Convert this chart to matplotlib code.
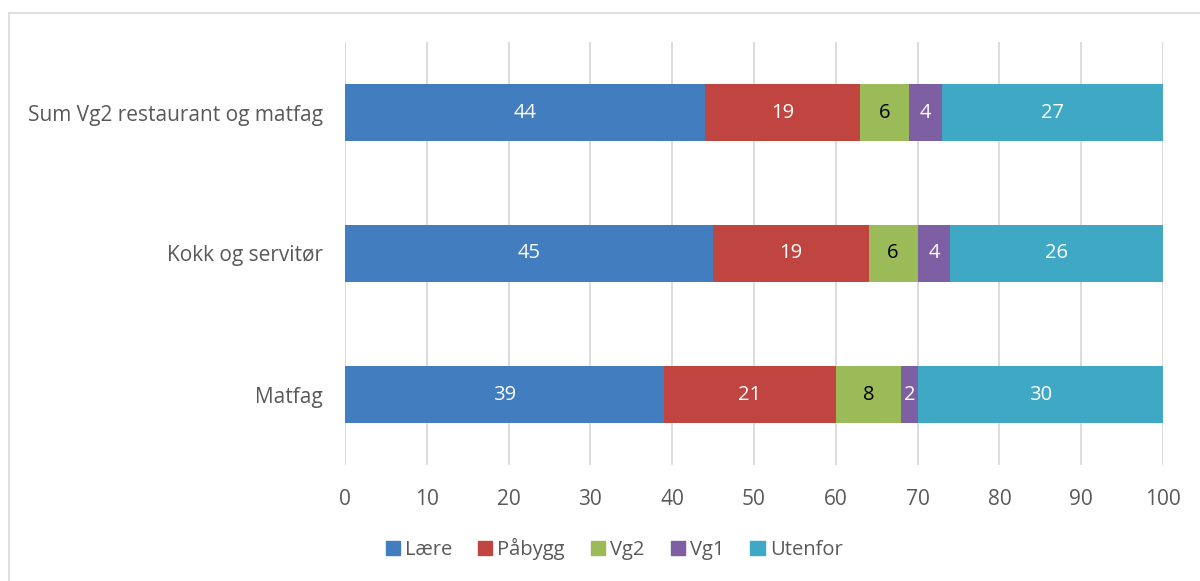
import matplotlib
matplotlib.use("Agg")
import matplotlib.pyplot as plt
import numpy as np
from matplotlib.lines import Line2D

categories = ["Matfag", "Kokk og servitør", "Sum Vg2 restaurant og matfag"]
series_names = ["Lære", "Påbygg", "Vg2", "Vg1", "Utenfor"]
laere = [39, 45, 44]
pabygg = [21, 19, 19]
vg2 = [8, 6, 6]
vg1 = [2, 4, 4]
utenfor = [30, 26, 27]
x_ticks = [0, 10, 20, 30, 40, 50, 60, 70, 80, 90, 100]

colors = ["#417DBF", "#C0443F", "#9BBB59", "#7F5FA4", "#3FA9C5"]
label_colors = ["white", "white", "black", "white", "white"]

plt.rcParams["font.family"] = ["Open Sans", "DejaVu Sans"]
text_gray = "#595959"

fig = plt.figure(figsize=(12, 5.81), dpi=100)
ax = fig.add_axes([345 / 1200, 1 - 465 / 581, (1163 - 345) / 1200, (465 - 42) / 581])

y = np.arange(len(categories))
left = np.zeros(len(categories))
for name, vals, col, lc in zip(series_names, [laere, pabygg, vg2, vg1, utenfor], colors, label_colors):
    vals = np.array(vals, dtype=float)
    bars = ax.barh(y, vals, left=left, height=0.40, color=col, label=name, zorder=3)
    for b, v in zip(bars, vals):
        ax.text(b.get_x() + b.get_width() / 2, b.get_y() + b.get_height() / 2, f"{v:g}",
                ha="center", va="center", color=lc, fontsize=14.5, zorder=4)
    left += vals

ax.set_xlim(0, 100)
ax.set_ylim(-0.5, len(categories) - 0.5)
ax.set_xticks(x_ticks)
ax.set_yticks(y)
ax.set_yticklabels(categories)
ax.tick_params(axis="both", length=0, colors=text_gray, labelsize=15)
ax.tick_params(axis="x", pad=17)
ax.tick_params(axis="y", pad=16)
ax.grid(axis="x", color="#D9D9D9", linewidth=1.3, zorder=0)
for s in ax.spines.values():
    s.set_visible(False)

handles = [plt.Rectangle((0, 0), 1, 1, color=c) for c in colors]
leg = fig.legend(handles, series_names, loc="center", bbox_to_anchor=(614 / 1200, 1 - 549 / 581),
                 ncol=5, frameon=False, handlelength=0.7, handleheight=0.7, handletextpad=0.25,
                 columnspacing=1.3, fontsize=14.5)
for t in leg.get_texts():
    t.set_color(text_gray)

# chart border
fig.add_artist(Line2D([9 / 1200, 1.0], [1 - 13 / 581] * 2, color="#D9D9D9", linewidth=1.2))
fig.add_artist(Line2D([9 / 1200] * 2, [0.0, 1 - 13 / 581], color="#D9D9D9", linewidth=1.2))

fig.savefig("out.png", dpi=100)
